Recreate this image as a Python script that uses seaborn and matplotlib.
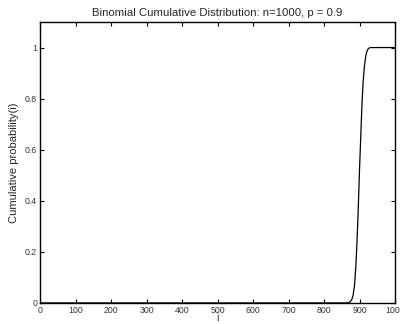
import numpy as np
import pandas as pd
import seaborn as sns
import matplotlib
matplotlib.use("Agg")
import matplotlib.pyplot as plt

# values
i_vals = [0, 860, 868, 873, 878, 882, 886, 890, 893, 896, 900, 904, 907, 910, 914, 918, 922, 926, 930, 935, 1000]
cum_prob = [0.0, 0.0, 0.001, 0.004, 0.012, 0.03, 0.07, 0.15, 0.24, 0.35, 0.52, 0.67, 0.78, 0.86, 0.93, 0.97, 0.99, 0.997, 1.0, 1.0, 1.0]
x_ticks = [0, 100, 200, 300, 400, 500, 600, 700, 800, 900, 1000]
y_ticks = [0, 0.2, 0.4, 0.6, 0.8, 1]

df = pd.DataFrame({"i": i_vals, "F": cum_prob})

sns.set_style("white")
plt.rcParams["font.family"] = ["Liberation Sans", "DejaVu Sans"]

fig = plt.figure(figsize=(4, 3.24), dpi=100)
ax = fig.add_axes([0.1, 0.065, 0.8875, 0.867])

sns.lineplot(data=df, x="i", y="F", color="black", linewidth=0.9, ax=ax)

ax.set_xlim(0, 1000)
ax.set_ylim(0, 1.1)
ax.set_xticks(x_ticks)
ax.set_xticklabels([str(t) for t in x_ticks])
ax.set_yticks(y_ticks)
ax.set_yticklabels(["0", "0.2", "0.4", "0.6", "0.8", "1"])
ax.tick_params(direction="in", length=3, width=0.8, labelsize=6.3, top=True, right=True,
               bottom=True, left=True, pad=2, colors="black", labelcolor="#333333")
for s in ax.spines.values():
    s.set_visible(True)
    s.set_color("black")
    s.set_linewidth(1.0)

ax.set_title("Binomial Cumulative Distribution: n=1000, p = 0.9", fontsize=8.2, pad=4)
ax.set_xlabel("i", fontsize=7.5, labelpad=-1)
ax.set_ylabel("Cumulative probability(i)", fontsize=8, labelpad=4)

fig.savefig("out.png", dpi=100)
